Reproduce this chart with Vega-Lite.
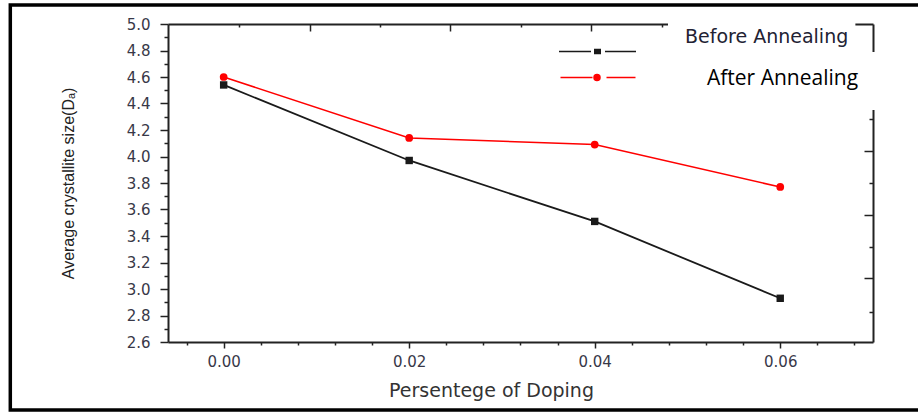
{
  "$schema": "https://vega.github.io/schema/vega-lite/v6.json",
  "width": 705,
  "height": 318,
  "autosize": {"type": "none"},
  "padding": {"left": 168, "top": 24, "right": 45, "bottom": 71},
  "background": "white",
  "config": {
    "view": {"stroke": null},
    "axis": {
      "grid": false,
      "domainColor": "#222222",
      "domainWidth": 2,
      "tickColor": "#222222",
      "tickWidth": 1.5,
      "labelFont": "DejaVu Sans",
      "labelFontSize": 15,
      "labelColor": "#383848",
      "labelOverlap": false,
      "labelFlush": false,
      "titleFontWeight": "normal",
      "titleColor": "#222222"
    },
    "legend": {
      "orient": "none",
      "title": null,
      "padding": 0,
      "symbolSize": 100,
      "labelOffset": 4,
      "labelLimit": 0,
      "labelBaseline": "middle",
      "symbolStrokeWidth": 1.5,
      "symbolOpacity": 1
    }
  },
  "data": {
    "values": [
      {"doping": 0.00, "size": 4.54, "series": "Before Annealing"},
      {"doping": 0.02, "size": 3.97, "series": "Before Annealing"},
      {"doping": 0.04, "size": 3.51, "series": "Before Annealing"},
      {"doping": 0.06, "size": 2.93, "series": "Before Annealing"},
      {"doping": 0.00, "size": 4.60, "series": "After Annealing"},
      {"doping": 0.02, "size": 4.14, "series": "After Annealing"},
      {"doping": 0.04, "size": 4.09, "series": "After Annealing"},
      {"doping": 0.06, "size": 3.77, "series": "After Annealing"}
    ]
  },
  "layer": [
    {
      "data": {"values": [{}]},
      "mark": {"type": "rect", "filled": false, "stroke": "#000000", "strokeWidth": 3.5, "clip": false},
      "encoding": {
        "x": {"datum": -0.0230, "type": "quantitative", "scale": {"domain": [-0.006, 0.07], "nice": false, "zero": false}, "axis": null},
        "x2": {"datum": 0.09},
        "y": {"datum": 5.1434, "type": "quantitative", "scale": {"domain": [2.6, 5.0], "nice": false, "zero": false}, "axis": null},
        "y2": {"datum": 2.0868}
      }
    },
    {
      "transform": [{"filter": "datum.series === 'Before Annealing'"}],
      "mark": {"type": "line", "strokeWidth": 1.8, "color": "#1a1a1a"},
      "encoding": {
        "x": {
          "field": "doping", "type": "quantitative",
          "scale": {"domain": [-0.006, 0.07], "nice": false, "zero": false},
          "axis": {
            "orient": "bottom",
            "title": "Persentege of Doping",
            "titleFont": "DejaVu Sans",
            "titleFontSize": 19,
            "titleColor": "#333333",
            "titleX": 323,
            "titlePadding": 12,
            "values": [-0.004, 0.0, 0.004, 0.008, 0.012, 0.016, 0.02, 0.024, 0.028, 0.032, 0.036, 0.04, 0.044, 0.048, 0.052, 0.056, 0.06, 0.064, 0.068],
            "tickSize": {"condition": {"test": "round(datum.value*1000) % 20 == 0", "value": 6}, "value": 3},
            "labelExpr": "round(datum.value*1000) % 20 == 0 ? format(datum.value, '.2f') : ''",
            "labelFont": "DejaVu Sans",
            "labelFontSize": 15,
            "labelPadding": 6
          }
        },
        "y": {
          "field": "size", "type": "quantitative",
          "scale": {"domain": [2.6, 5.0], "nice": false, "zero": false},
          "axis": {
            "orient": "left",
            "title": "Average crystallite size(Dₐ)",
            "titleFont": "Liberation Sans",
            "titleFontSize": 16,
            "titlePadding": 50,
            "values": [2.6, 2.7, 2.8, 2.9, 3.0, 3.1, 3.2, 3.3, 3.4, 3.5, 3.6, 3.7, 3.8, 3.9, 4.0, 4.1, 4.2, 4.3, 4.4, 4.5, 4.6, 4.7, 4.8, 4.9, 5.0],
            "tickSize": {"condition": {"test": "round(datum.value*10) % 2 == 0", "value": 8}, "value": 4},
            "labelExpr": "round(datum.value*10) % 2 == 0 ? format(datum.value, '.1f') : ''",
            "labelFont": "DejaVu Sans",
            "labelFontSize": 15,
            "labelPadding": 10
          }
        }
      }
    },
    {
      "transform": [{"filter": "datum.series === 'Before Annealing'"}],
      "mark": {"type": "point", "shape": "square", "filled": true, "opacity": 1, "size": 55},
      "encoding": {
        "x": {
          "field": "doping", "type": "quantitative",
          "scale": {"domain": [-0.006, 0.07], "nice": false, "zero": false},
          "axis": {
            "orient": "top",
            "title": null,
            "labels": false,
            "values": [0.0017, 0.0093, 0.0169, 0.0244, 0.0321, 0.0396, 0.0473, 0.0548, 0.0624],
            "tickSize": {"condition": {"test": "indexof([93, 244, 396, 548], round(datum.value*10000)) >= 0", "value": -7}, "value": -3}
          }
        },
        "y": {
          "field": "size", "type": "quantitative",
          "scale": {"domain": [2.6, 5.0], "nice": false, "zero": false},
          "axis": {
            "orient": "right",
            "title": null,
            "labels": false,
            "values": [4.52, 4.28, 4.04, 3.80, 3.56, 3.32, 3.08, 2.83],
            "tickSize": {"condition": {"test": "indexof([452, 404, 356, 308], round(datum.value*100)) >= 0", "value": -9}, "value": -4}
          }
        },
        "color": {
          "field": "series", "type": "nominal",
          "scale": {"domain": ["Before Annealing"], "range": ["#1a1a1a"]},
          "legend": {
            "legendX": 494,
            "legendY": 3,
            "symbolType": "M-22.5,3H-16.1M-15.35,2.6H-14.25V3.4H-15.35ZM-13.3,3H-7.1",
            "symbolStrokeColor": "#1a1a1a",
            "labelFont": "DejaVu Sans",
            "labelFontSize": 19,
            "labelColor": "#222233"
          }
        }
      }
    },
    {
      "transform": [{"filter": "datum.series === 'After Annealing'"}],
      "mark": {"type": "line", "strokeWidth": 1.6, "color": "#ff0000"},
      "encoding": {
        "x": {"field": "doping", "type": "quantitative", "scale": {"domain": [-0.006, 0.07], "nice": false, "zero": false}, "axis": null},
        "y": {"field": "size", "type": "quantitative", "scale": {"domain": [2.6, 5.0], "nice": false, "zero": false}, "axis": null}
      }
    },
    {
      "transform": [{"filter": "datum.series === 'After Annealing'"}],
      "mark": {"type": "point", "shape": "circle", "filled": true, "opacity": 1, "size": 60},
      "encoding": {
        "x": {"field": "doping", "type": "quantitative", "scale": {"domain": [-0.006, 0.07], "nice": false, "zero": false}, "axis": null},
        "y": {"field": "size", "type": "quantitative", "scale": {"domain": [2.6, 5.0], "nice": false, "zero": false}, "axis": null},
        "color": {
          "field": "series", "type": "nominal",
          "scale": {"domain": ["After Annealing"], "range": ["#ff0000"]},
          "legend": {
            "legendX": 514,
            "legendY": 44,
            "symbolType": "M-26.4,-0.2H-20M-19.7,-0.2A0.6,0.6,0,1,1,-18.5,-0.2A0.6,0.6,0,1,1,-19.7,-0.2ZM-17.2,-0.2H-11.4",
            "symbolStrokeColor": "#ff0000",
            "labelFont": "Open Sans",
            "labelFontSize": 21,
            "labelColor": "#000000"
          }
        }
      }
    },
    {
      "data": {"values": [{}]},
      "mark": {"type": "rect", "color": "#ffffff", "opacity": 1, "clip": false},
      "encoding": {
        "x": {"datum": 0.0479, "type": "quantitative", "scale": {"domain": [-0.006, 0.07], "nice": false, "zero": false}, "axis": null},
        "x2": {"datum": 0.0681},
        "y": {"datum": 5.0604, "type": "quantitative", "scale": {"domain": [2.6, 5.0], "nice": false, "zero": false}, "axis": null},
        "y2": {"datum": 4.8038}
      }
    },
    {
      "data": {"values": [{}]},
      "mark": {"type": "rect", "color": "#ffffff", "opacity": 1, "clip": false},
      "encoding": {
        "x": {"datum": 0.0688, "type": "quantitative", "scale": {"domain": [-0.006, 0.07], "nice": false, "zero": false}, "axis": null},
        "x2": {"datum": 0.0708},
        "y": {"datum": 4.7887, "type": "quantitative", "scale": {"domain": [2.6, 5.0], "nice": false, "zero": false}, "axis": null},
        "y2": {"datum": 4.3509}
      }
    }
  ],
  "resolve": {
    "scale": {"color": "independent"},
    "axis": {"x": "independent", "y": "independent"}
  }
}
